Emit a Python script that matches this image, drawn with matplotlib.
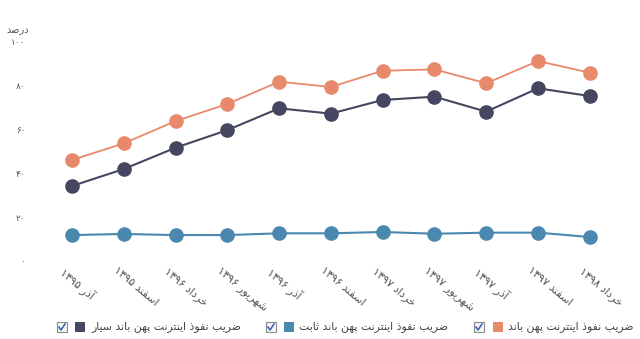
import matplotlib
matplotlib.use("Agg")
import matplotlib.pyplot as plt
import matplotlib.transforms as mtransforms
from matplotlib.patches import Rectangle
from matplotlib.lines import Line2D

# data (percent)
months = ["آذر ۱۳۹۵", "اسفند ۱۳۹۵", "خرداد ۱۳۹۶", "شهریور ۱۳۹۶", "آذر ۱۳۹۶",
          "اسفند ۱۳۹۶", "خرداد ۱۳۹۷", "شهریور ۱۳۹۷", "آذر ۱۳۹۷", "اسفند ۱۳۹۷",
          "خرداد ۱۳۹۸"]
broadband = [45.9, 53.5, 63.6, 71.4, 81.5, 79.1, 86.5, 87.1, 80.8, 90.9, 85.6]
mobile = [34.1, 41.8, 51.5, 59.5, 69.4, 67.0, 73.2, 74.7, 67.9, 78.5, 75.0]
fixed = [11.8, 12.3, 11.8, 11.8, 12.6, 12.6, 13.2, 12.4, 12.9, 12.9, 10.9]
y_ticks = [0, 20, 40, 60, 80, 100]
series_names = ["ضریب نفوذ اینترنت پهن باند",
                "ضریب نفوذ اینترنت پهن باند ثابت",
                "ضریب نفوذ اینترنت پهن باند سیار"]
y_title = "درصد"

colors = ["#e8896b", "#4b88b0", "#44475f"]

# matplotlib 3.10 has no arabic shaping, so do a small one by hand
FORMS = {
    'ا': ('\uFE8D', '\uFE8E', None, None),
    'آ': ('\uFE81', '\uFE82', None, None),
    'ب': ('\uFE8F', '\uFE90', '\uFE91', '\uFE92'),
    'پ': ('\uFB56', '\uFB57', '\uFB58', '\uFB59'),
    'ت': ('\uFE95', '\uFE96', '\uFE97', '\uFE98'),
    'ث': ('\uFE99', '\uFE9A', '\uFE9B', '\uFE9C'),
    'خ': ('\uFEA5', '\uFEA6', '\uFEA7', '\uFEA8'),
    'د': ('\uFEA9', '\uFEAA', None, None),
    'ذ': ('\uFEAB', '\uFEAC', None, None),
    'ر': ('\uFEAD', '\uFEAE', None, None),
    'س': ('\uFEB1', '\uFEB2', '\uFEB3', '\uFEB4'),
    'ش': ('\uFEB5', '\uFEB6', '\uFEB7', '\uFEB8'),
    'ص': ('\uFEB9', '\uFEBA', '\uFEBB', '\uFEBC'),
    'ض': ('\uFEBD', '\uFEBE', '\uFEBF', '\uFEC0'),
    'ف': ('\uFED1', '\uFED2', '\uFED3', '\uFED4'),
    'ن': ('\uFEE5', '\uFEE6', '\uFEE7', '\uFEE8'),
    'ه': ('\uFEE9', '\uFEEA', '\uFEEB', '\uFEEC'),
    'و': ('\uFEED', '\uFEEE', None, None),
    'ی': ('\uFBFC', '\uFBFD', '\uFBFE', '\uFBFF'),
}


def shape(word):
    out = []
    for i, c in enumerate(word):
        if c not in FORMS:
            out.append(c)
            continue
        prev = word[i - 1] if i > 0 else None
        nxt = word[i + 1] if i + 1 < len(word) else None
        jp = prev in FORMS and FORMS[prev][2] is not None
        jn = FORMS[c][2] is not None and nxt in FORMS
        iso, fin, ini, med = FORMS[c]
        if jp and jn:
            out.append(med)
        elif jp:
            out.append(fin)
        elif jn:
            out.append(ini)
        else:
            out.append(iso)
    return "".join(out)


def rtl(text):
    vis = []
    for tok in reversed(text.split(" ")):
        if any(ch in FORMS for ch in tok):
            vis.append(shape(tok)[::-1])
        else:
            vis.append(tok)
    return " ".join(vis)


def fa_num(n):
    return str(n).translate(str.maketrans("0123456789", "۰۱۲۳۴۵۶۷۸۹"))


plt.rcParams['font.family'] = ['DejaVu Sans']

fig = plt.figure(figsize=(6.4, 3.39), dpi=100)
ax = fig.add_axes([0.072, 0.230, 0.890, 0.649])

x = list(range(len(months)))
for vals, c, lw in [(broadband, colors[0], 1.3), (mobile, colors[2], 1.5), (fixed, colors[1], 1.5)]:
    ax.plot(x, vals, color=c, lw=lw, marker="o", markersize=9.5, clip_on=False)

ax.set_xlim(-0.5, len(months) - 0.5)
ax.set_ylim(0, 100)
for s in ax.spines.values():
    s.set_visible(False)

ax.set_yticks(y_ticks)
ax.set_yticklabels([fa_num(v) for v in y_ticks], fontsize=6.5, color="#555555")
ax.tick_params(axis="y", length=0, pad=15)

ax.set_xticks(x)
ax.set_xticklabels([rtl(m) for m in months], rotation=-40, ha="left", va="top",
                   rotation_mode="anchor", fontsize=8, color="#555555")
ax.tick_params(axis="x", length=0, pad=3)
off = mtransforms.ScaledTranslation(-6 / 100, 0, fig.dpi_scale_trans)
for lab in ax.get_xticklabels():
    lab.set_transform(lab.get_transform() + off)

fig.text(18 / 640, 1 - 30 / 339, rtl(y_title), ha="center", va="center",
         fontsize=7, color="#555555")

# legend row: checkbox, colour square, label
W, H = 640, 339
yc = 327
legend_pos = [(479, 498, 508), (271, 289, 299), (62, 80, 91)]
for name, c, (cb, sq, tx) in zip(series_names, colors, legend_pos):
    fig.patches.append(Rectangle(((cb - 5) / W, 1 - (yc + 5) / H), 10 / W, 10 / H,
                                 transform=fig.transFigure, facecolor="#f2f4f8",
                                 edgecolor="#8a8a8a", lw=0.8))
    fig.lines.append(Line2D([(cb - 3) / W, (cb - 1) / W, (cb + 3) / W],
                            [1 - (yc) / H, 1 - (yc + 3) / H, 1 - (yc - 3) / H],
                            transform=fig.transFigure, color="#3b5da8", lw=1.1))
    fig.patches.append(Rectangle(((sq - 5) / W, 1 - (yc + 5) / H), 10 / W, 10 / H,
                                 transform=fig.transFigure, facecolor=c,
                                 edgecolor="none"))
    fig.text(tx / W, 1 - yc / H, rtl(name), ha="left", va="center",
             fontsize=7.8, color="#444444")

fig.savefig("out.png", dpi=100, facecolor="white")
